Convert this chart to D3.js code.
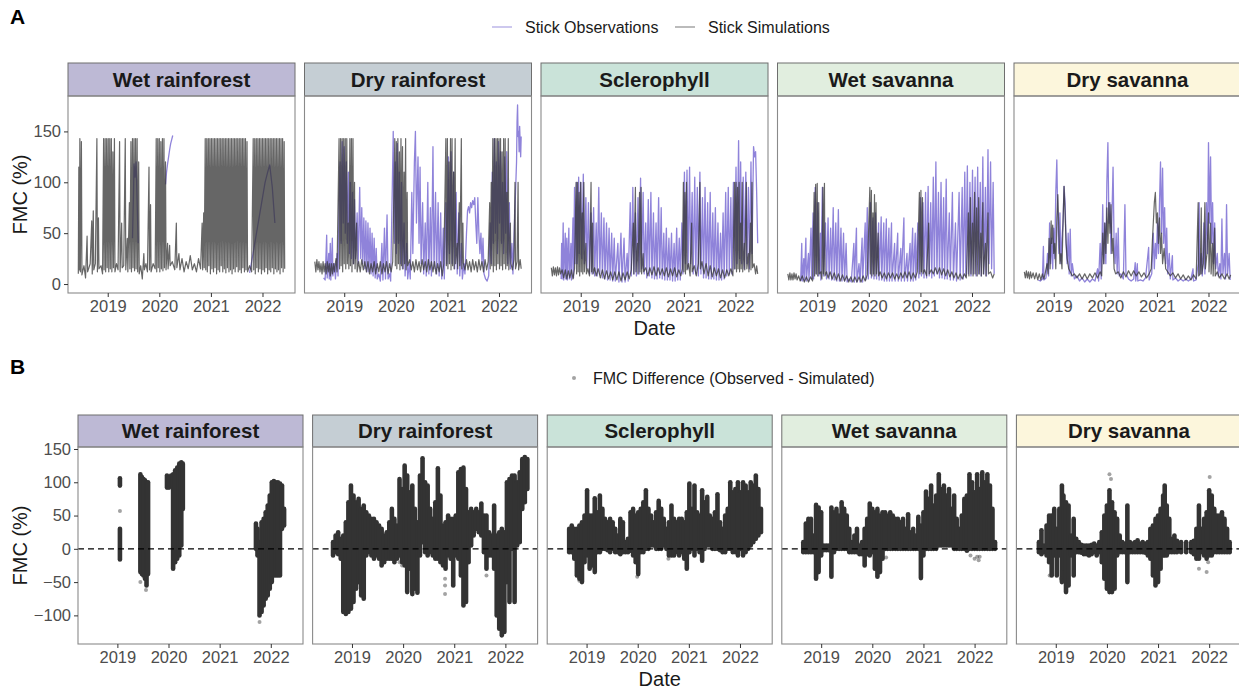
<!DOCTYPE html>
<html>
<head>
<meta charset="utf-8">
<script src="https://cdn.jsdelivr.net/npm/d3@7"></script>
<style>
  body { margin: 0; background: #fff; }
  svg { display: block; font-family: "Liberation Sans", Arial, sans-serif; }
</style>
</head>
<body>
<svg id="chart" width="1239" height="691"></svg>
<script>
// Facets, ticks
const sites = ['Wet rainforest', 'Dry rainforest', 'Sclerophyll', 'Wet savanna', 'Dry savanna'];
const years = [2019, 2020, 2021, 2022];
const fmcTicksA = [0, 50, 100, 150];
const fmcTicksB = [-100, -50, 0, 50, 100, 150];

// Panel A: stick FMC time series [decimal year, FMC %] (null = gap in observations)
const obsWetRainforest = [[2019.48,45],[2019.50,90],[2019.51,118],[2019.53,105],[2019.55,120],[2019.57,80],[2019.59,40],[2019.60,null],
  [2020.12,98],[2020.14,110],[2020.16,118],[2020.18,125],[2020.20,132],[2020.22,138],[2020.24,142],[2020.26,146],[2020.27,null],
  [2021.75,11],[2021.80,25],[2021.85,40],[2021.90,55],[2021.95,70],[2022.00,85],[2022.05,100],[2022.10,110],[2022.14,117],[2022.19,95],[2022.24,60]];
const simWetRainforest = [[2018.43,10],[2018.44,115],[2018.45,14],[2018.46,143],[2018.47,12],[2018.49,140],[2018.50,9],[2018.54,18],[2018.57,6],[2018.60,47],[2018.61,12],[2018.66,20],[2018.69,62],[2018.70,10],[2018.72,72],[2018.73,14],[2018.76,20],[2018.79,143],[2018.80,12],[2018.82,65],[2018.83,15],[2018.87,18],[2018.90,10],
  [2018.92,143],[2018.93,14],[2018.95,143],[2018.96,12],[2018.98,143],[2018.99,16],[2019.01,143],[2019.02,12],[2019.04,143],[2019.05,15],[2019.07,143],[2019.08,12],[2019.10,130],[2019.11,16],[2019.13,143],[2019.14,12],[2019.17,20],[2019.20,14],[2019.23,140],[2019.24,12],[2019.27,60],[2019.28,16],[2019.31,18],[2019.34,143],[2019.35,14],[2019.38,45],[2019.39,12],[2019.42,80],[2019.43,15],
  [2019.45,140],[2019.46,12],[2019.48,143],[2019.49,16],[2019.51,143],[2019.52,13],[2019.54,143],[2019.55,15],[2019.57,143],[2019.58,12],[2019.60,120],[2019.61,10],[2019.64,18],[2019.67,5],[2019.70,30],[2019.71,14],[2019.74,20],[2019.77,12],[2019.80,115],[2019.81,14],[2019.83,78],[2019.84,12],[2019.88,20],[2019.92,15],
  [2019.94,143],[2019.95,12],[2019.97,143],[2019.98,16],[2020.00,143],[2020.01,12],[2020.03,140],[2020.04,15],[2020.06,143],[2020.07,13],[2020.09,143],[2020.10,16],[2020.12,120],[2020.13,14],[2020.16,40],[2020.17,15],[2020.20,38],[2020.21,18],[2020.25,22],[2020.30,14],[2020.33,60],[2020.34,16],[2020.38,30],[2020.40,14],[2020.44,25],[2020.48,12],[2020.52,22],[2020.56,15],[2020.60,28],[2020.64,14],[2020.68,20],[2020.72,12],[2020.76,25],[2020.80,15],[2020.83,60],[2020.84,14],[2020.86,70],[2020.87,16],
  [2020.89,143],[2020.90,14],[2020.92,143],[2020.93,12],[2020.95,143],[2020.96,18],[2020.98,143],[2020.99,10],[2021.01,143],[2021.02,15],[2021.04,143],[2021.05,12],[2021.07,143],[2021.08,16],[2021.10,143],[2021.11,10],[2021.13,143],[2021.14,14],[2021.16,143],[2021.17,12],[2021.19,143],[2021.20,18],[2021.22,143],[2021.23,12],[2021.25,143],[2021.26,15],[2021.28,143],[2021.29,11],[2021.31,143],[2021.32,16],[2021.34,143],[2021.35,12],[2021.37,143],[2021.38,14],[2021.40,143],[2021.41,10],[2021.43,143],[2021.44,15],[2021.46,143],[2021.47,12],[2021.49,143],[2021.50,17],[2021.52,143],[2021.53,12],[2021.55,143],[2021.56,14],[2021.58,143],[2021.59,11],[2021.61,143],[2021.62,16],[2021.64,143],[2021.65,12],[2021.67,143],[2021.68,14],[2021.70,140],[2021.71,12],[2021.75,18],[2021.79,12],
  [2021.82,143],[2021.83,14],[2021.85,143],[2021.86,10],[2021.88,143],[2021.89,16],[2021.91,143],[2021.92,12],[2021.94,143],[2021.95,15],[2021.97,143],[2021.98,10],[2022.00,143],[2022.01,14],[2022.03,143],[2022.04,12],[2022.06,143],[2022.07,16],[2022.09,143],[2022.10,10],[2022.12,143],[2022.13,14],[2022.15,143],[2022.16,12],[2022.18,143],[2022.19,16],[2022.21,143],[2022.22,10],[2022.24,143],[2022.25,15],[2022.27,143],[2022.28,12],[2022.30,143],[2022.31,14],[2022.33,143],[2022.34,10],[2022.36,143],[2022.37,16],[2022.39,143],[2022.40,12],[2022.42,140],[2022.43,15]];

const obsDryRainforest = [[2018.60,6],[2018.63,4],[2018.66,48],[2018.67,6],[2018.70,30],[2018.71,5],[2018.73,40],[2018.74,4],[2018.77,45],[2018.78,8],[2018.81,20],[2018.83,5],[2018.86,30],[2018.88,8],
  [2018.90,80],[2018.92,120],[2018.94,40],[2018.96,140],[2018.98,60],[2019.00,135],[2019.02,50],[2019.04,120],[2019.06,40],[2019.08,110],[2019.10,30],[2019.12,100],[2019.14,25],[2019.16,90],[2019.18,20],[2019.20,83],[2019.22,25],[2019.25,70],[2019.27,20],[2019.30,95],[2019.32,25],[2019.34,75],[2019.36,20],[2019.38,65],[2019.40,15],[2019.42,62],[2019.44,12],[2019.46,60],[2019.48,12],[2019.50,55],[2019.52,10],[2019.54,50],[2019.56,8],[2019.58,45],[2019.60,6],[2019.62,35],[2019.64,5],[2019.67,10],[2019.70,3],[2019.73,40],[2019.75,4],[2019.78,55],[2019.80,5],[2019.83,68],[2019.85,5],[2019.88,10],[2019.90,3],
  [2019.93,90],[2019.95,150],[2019.97,40],[2019.99,120],[2020.01,30],[2020.03,138],[2020.05,40],[2020.07,110],[2020.09,20],[2020.11,100],[2020.13,15],[2020.16,60],[2020.18,8],[2020.21,40],[2020.23,5],[2020.26,20],[2020.28,5],[2020.31,90],[2020.33,30],[2020.36,120],[2020.38,150],[2020.40,60],[2020.43,125],[2020.45,40],[2020.47,115],[2020.49,20],[2020.52,80],[2020.54,10],[2020.57,60],[2020.59,8],[2020.62,100],[2020.64,10],[2020.67,75],[2020.69,8],[2020.72,135],[2020.74,15],[2020.77,90],[2020.79,10],[2020.82,80],[2020.84,8],[2020.87,70],[2020.89,5],[2020.92,55],[2020.94,5],
  [2020.97,80],[2020.99,20],[2021.02,125],[2021.04,30],[2021.07,130],[2021.09,20],[2021.12,110],[2021.14,15],[2021.17,90],[2021.19,10],[2021.22,70],[2021.24,8],[2021.27,40],[2021.29,5],[2021.32,20],[2021.34,10],
  [2021.37,50],[2021.39,72],[2021.41,76],[2021.43,70],[2021.45,80],[2021.47,75],[2021.49,82],[2021.51,78],[2021.53,85],[2021.55,60],[2021.57,40],[2021.59,85],[2021.61,50],[2021.63,30],[2021.65,50],[2021.67,20],[2021.69,45],[2021.71,10],[2021.74,5],[2021.77,3],[2021.80,8],
  [2021.83,60],[2021.85,20],[2021.87,110],[2021.89,40],[2021.91,143],[2021.93,50],[2021.95,120],[2021.97,30],[2021.99,140],[2022.01,60],[2022.03,130],[2022.05,40],[2022.07,100],[2022.09,30],[2022.11,125],[2022.13,50],[2022.15,130],[2022.17,20],[2022.20,80],[2022.22,15],[2022.25,40],[2022.27,10],[2022.30,60],[2022.32,90],[2022.34,120],[2022.35,160],[2022.36,176],[2022.37,145],[2022.38,150],[2022.39,130],[2022.40,155],[2022.41,140],[2022.42,125],[2022.43,145]];
const simDryRainforest = [[2018.43,22],[2018.45,12],[2018.47,24],[2018.49,14],[2018.51,22],[2018.53,12],[2018.55,20],[2018.57,10],[2018.59,22],[2018.61,12],[2018.63,20],[2018.65,10],[2018.67,22],[2018.69,12],[2018.71,20],[2018.73,8],[2018.75,20],[2018.77,10],[2018.79,20],[2018.81,12],[2018.84,25],[2018.86,12],
  [2018.90,143],[2018.91,15],[2018.93,143],[2018.94,18],[2018.96,143],[2018.97,12],[2018.99,143],[2019.00,20],[2019.02,143],[2019.03,15],[2019.05,143],[2019.06,20],[2019.08,60],[2019.09,15],[2019.11,143],[2019.12,18],[2019.14,143],[2019.15,12],[2019.17,143],[2019.18,20],[2019.20,100],[2019.21,15],[2019.24,60],[2019.25,12],[2019.28,22],
  [2019.31,12],[2019.34,24],[2019.37,14],[2019.40,22],[2019.43,12],[2019.46,22],[2019.49,10],[2019.52,20],[2019.55,12],[2019.58,22],[2019.61,10],[2019.64,20],[2019.67,12],[2019.70,22],[2019.73,10],[2019.76,20],[2019.79,12],[2019.82,22],[2019.85,10],[2019.88,20],[2019.91,12],[2019.94,22],
  [2019.98,143],[2019.99,18],[2020.01,140],[2020.02,15],[2020.04,143],[2020.05,20],[2020.07,130],[2020.08,14],[2020.10,143],[2020.11,18],[2020.13,135],[2020.14,15],[2020.16,110],[2020.17,20],[2020.19,143],[2020.20,14],[2020.22,90],[2020.23,18],
  [2020.27,24],[2020.30,14],[2020.33,22],[2020.36,12],[2020.39,24],[2020.42,14],[2020.45,22],[2020.48,12],[2020.51,24],[2020.54,14],[2020.57,22],[2020.60,12],[2020.63,24],[2020.66,14],[2020.69,22],[2020.72,12],[2020.75,22],[2020.78,10],[2020.81,20],[2020.84,12],[2020.87,22],[2020.90,8],[2020.93,20],
  [2020.97,143],[2020.98,18],[2021.00,143],[2021.01,15],[2021.03,120],[2021.04,20],[2021.06,143],[2021.07,14],[2021.09,143],[2021.10,18],[2021.12,110],[2021.13,15],[2021.15,143],[2021.16,20],[2021.19,40],[2021.20,15],[2021.23,80],[2021.24,18],[2021.27,143],[2021.28,15],[2021.30,60],[2021.31,20],
  [2021.34,14],[2021.37,24],[2021.40,14],[2021.43,22],[2021.46,12],[2021.49,24],[2021.52,14],[2021.55,22],[2021.58,12],[2021.61,24],[2021.64,14],[2021.67,22],[2021.70,12],[2021.73,24],[2021.76,14],[2021.79,22],
  [2021.82,80],[2021.83,15],[2021.85,100],[2021.86,18],[2021.88,143],[2021.89,12],[2021.91,143],[2021.92,18],[2021.94,143],[2021.95,14],[2021.97,143],[2021.98,20],[2022.00,143],[2022.01,15],[2022.03,143],[2022.04,18],[2022.06,130],[2022.07,14],[2022.09,143],[2022.10,20],[2022.12,143],[2022.13,15],[2022.15,90],[2022.16,18],[2022.18,143],[2022.19,14],[2022.22,60],[2022.23,20],
  [2022.26,14],[2022.29,24],[2022.31,100],[2022.32,15],[2022.35,22],[2022.37,100],[2022.38,14],[2022.41,24],[2022.43,15]];

const obsSclerophyll = [[2018.62,5],[2018.63,40],[2018.64,5],[2018.66,60],[2018.67,4],[2018.70,50],[2018.71,5],[2018.73,45],[2018.74,4],[2018.77,55],[2018.78,5],[2018.81,40],[2018.82,4],[2018.85,65],[2018.86,6],[2018.88,95],[2018.89,20],[2018.92,100],[2018.93,20],[2018.96,105],[2018.97,30],[2019.00,100],[2019.02,25],[2019.05,108],[2019.07,20],[2019.10,85],[2019.12,15],[2019.15,80],[2019.17,10],[2019.20,70],[2019.22,10],[2019.25,75],[2019.27,8],[2019.30,60],[2019.32,8],[2019.35,95],[2019.37,10],[2019.40,70],[2019.42,6],[2019.45,65],[2019.47,5],[2019.50,60],[2019.52,4],[2019.55,55],[2019.57,4],[2019.60,50],[2019.62,3],[2019.65,45],[2019.67,3],[2019.72,40],[2019.74,2],[2019.78,50],[2019.80,2],[2019.84,45],[2019.86,2],
  [2019.90,30],[2019.92,3],[2019.96,80],[2019.98,8],[2020.01,95],[2020.03,10],[2020.06,70],[2020.08,8],[2020.11,85],[2020.13,10],[2020.16,104],[2020.18,15],[2020.21,90],[2020.23,10],[2020.26,60],[2020.28,6],[2020.31,83],[2020.33,8],[2020.36,90],[2020.38,6],[2020.41,70],[2020.43,5],[2020.46,60],[2020.48,5],[2020.51,85],[2020.53,6],[2020.56,75],[2020.58,5],[2020.61,50],[2020.63,4],[2020.66,55],[2020.68,4],[2020.71,45],[2020.73,4],[2020.76,50],[2020.78,3],[2020.81,40],[2020.83,3],[2020.86,55],[2020.88,4],[2020.91,45],[2020.93,4],
  [2020.96,60],[2020.98,10],[2021.01,110],[2021.03,20],[2021.06,112],[2021.08,15],[2021.11,115],[2021.13,20],[2021.16,90],[2021.18,10],[2021.21,105],[2021.23,10],[2021.26,95],[2021.28,8],[2021.31,110],[2021.33,10],[2021.36,85],[2021.38,6],[2021.41,95],[2021.43,6],[2021.46,80],[2021.48,5],[2021.51,90],[2021.53,5],[2021.56,70],[2021.58,5],[2021.61,75],[2021.63,4],[2021.66,60],[2021.68,4],[2021.71,50],[2021.73,4],[2021.76,70],[2021.78,5],[2021.81,90],[2021.83,8],[2021.86,95],[2021.88,10],[2021.91,85],[2021.93,10],
  [2021.96,100],[2021.98,15],[2022.01,115],[2022.03,20],[2022.06,141],[2022.08,25],[2022.10,120],[2022.12,20],[2022.15,105],[2022.17,15],[2022.20,110],[2022.22,20],[2022.25,95],[2022.27,15],[2022.30,120],[2022.32,30],[2022.35,135],[2022.37,125],[2022.39,130],[2022.41,90],[2022.43,40]];
const simSclerophyll = [[2018.43,16],[2018.45,8],[2018.47,17],[2018.49,9],[2018.51,16],[2018.53,8],[2018.55,17],[2018.57,9],[2018.59,16],[2018.61,10],[2018.64,14],[2018.67,6],[2018.70,14],[2018.73,5],[2018.76,13],[2018.79,6],[2018.82,14],[2018.85,5],[2018.88,15],
  [2018.91,100],[2018.92,10],[2018.94,100],[2018.95,12],[2018.97,90],[2018.98,8],[2019.00,100],[2019.01,12],[2019.03,70],[2019.04,10],[2019.06,100],[2019.07,12],[2019.10,40],[2019.11,10],[2019.14,15],[2019.17,8],[2019.20,100],[2019.21,12],[2019.23,60],[2019.24,10],[2019.27,16],
  [2019.30,8],[2019.34,15],[2019.38,6],[2019.42,14],[2019.46,5],[2019.50,13],[2019.54,5],[2019.58,12],[2019.62,4],[2019.66,12],[2019.70,4],[2019.74,12],[2019.78,3],[2019.82,11],[2019.86,4],[2019.90,12],[2019.94,5],[2019.98,14],
  [2020.02,60],[2020.03,10],[2020.06,95],[2020.07,12],[2020.10,40],[2020.11,10],[2020.14,90],[2020.15,12],[2020.17,95],[2020.18,10],[2020.21,30],[2020.22,12],
  [2020.26,16],[2020.30,8],[2020.34,16],[2020.38,9],[2020.42,17],[2020.46,8],[2020.50,16],[2020.54,9],[2020.58,15],[2020.62,8],[2020.66,16],[2020.70,7],[2020.74,15],[2020.78,8],[2020.82,16],[2020.86,7],[2020.90,14],[2020.94,8],[2020.97,15],
  [2020.99,100],[2021.00,12],[2021.02,90],[2021.03,10],[2021.05,100],[2021.06,14],[2021.09,20],[2021.12,8],[2021.15,60],[2021.16,12],[2021.20,18],[2021.24,8],[2021.28,20],[2021.31,100],[2021.32,15],[2021.35,22],[2021.39,10],[2021.43,20],[2021.47,8],[2021.51,18],[2021.55,7],[2021.59,16],[2021.63,8],[2021.67,15],[2021.71,6],[2021.75,14],[2021.79,6],[2021.83,14],[2021.87,8],[2021.91,15],[2021.95,8],
  [2021.98,100],[2021.99,15],[2022.01,100],[2022.02,12],[2022.04,95],[2022.05,15],[2022.07,100],[2022.08,12],[2022.10,60],[2022.11,15],[2022.13,100],[2022.14,12],[2022.17,40],[2022.18,14],[2022.21,100],[2022.22,15],[2022.25,30],[2022.26,12],[2022.29,60],[2022.30,14],[2022.32,100],[2022.33,16],[2022.36,20],[2022.39,10],[2022.41,18],[2022.43,10]];

const obsWetSavanna = [[2018.68,3],[2018.70,40],[2018.71,3],[2018.74,25],[2018.75,3],[2018.78,45],[2018.79,3],[2018.83,30],[2018.84,3],[2018.88,55],[2018.89,5],[2018.92,70],[2018.93,5],[2018.96,95],[2018.98,10],[2019.01,80],[2019.03,8],[2019.06,50],[2019.07,4],[2019.10,95],[2019.12,8],[2019.16,60],[2019.18,5],[2019.21,65],[2019.23,5],[2019.26,55],[2019.28,4],[2019.31,75],[2019.33,4],[2019.36,60],[2019.38,3],[2019.41,73],[2019.43,3],[2019.46,55],[2019.48,3],[2019.51,50],[2019.53,3],[2019.56,40],[2019.58,2],[2019.62,5],[2019.66,2],[2019.71,40],[2019.72,2],[2019.76,55],[2019.77,2],[2019.81,20],[2019.83,2],[2019.87,45],[2019.88,2],
  [2019.93,60],[2019.94,4],[2019.97,75],[2019.99,5],[2020.03,80],[2020.05,6],[2020.08,65],[2020.10,5],[2020.13,70],[2020.15,5],[2020.19,60],[2020.20,4],[2020.24,66],[2020.25,4],[2020.29,60],[2020.30,3],[2020.34,64],[2020.35,3],[2020.39,55],[2020.40,3],[2020.44,60],[2020.45,3],[2020.50,40],[2020.51,3],[2020.56,50],[2020.57,3],[2020.62,35],[2020.63,3],[2020.68,65],[2020.69,3],[2020.74,30],[2020.75,3],[2020.80,40],[2020.81,3],[2020.85,55],[2020.86,3],[2020.90,50],[2020.91,4],
  [2020.95,60],[2020.97,6],[2021.00,85],[2021.02,8],[2021.05,80],[2021.07,6],[2021.10,90],[2021.12,6],[2021.15,96],[2021.17,8],[2021.20,80],[2021.22,6],[2021.25,105],[2021.27,8],[2021.30,120],[2021.32,10],[2021.35,90],[2021.37,6],[2021.40,100],[2021.42,6],[2021.45,85],[2021.47,5],[2021.50,103],[2021.52,5],[2021.56,70],[2021.58,4],[2021.62,90],[2021.64,4],[2021.68,60],[2021.70,3],[2021.75,90],[2021.77,4],[2021.81,95],[2021.83,5],
  [2021.86,110],[2021.88,8],[2021.91,116],[2021.93,10],[2021.96,100],[2021.98,8],[2022.01,112],[2022.03,10],[2022.06,105],[2022.08,8],[2022.11,115],[2022.13,10],[2022.16,100],[2022.18,8],[2022.21,125],[2022.23,10],[2022.26,95],[2022.28,8],[2022.31,132],[2022.33,20],[2022.36,120],[2022.38,15],[2022.41,100],[2022.43,10]];
const simWetSavanna = [[2018.43,10],[2018.45,4],[2018.47,11],[2018.49,4],[2018.51,10],[2018.53,4],[2018.55,11],[2018.57,5],[2018.59,10],[2018.61,4],[2018.64,8],[2018.67,3],[2018.71,8],[2018.75,2],[2018.79,7],[2018.83,2],[2018.87,7],[2018.91,3],
  [2018.94,90],[2018.95,8],[2018.97,98],[2018.98,10],[2019.00,99],[2019.01,8],[2019.03,80],[2019.04,10],[2019.07,12],[2019.09,5],[2019.11,95],[2019.12,10],[2019.14,99],[2019.15,8],[2019.18,12],[2019.21,6],[2019.25,12],[2019.29,5],[2019.33,11],[2019.37,4],[2019.41,10],[2019.45,3],[2019.49,9],[2019.53,3],[2019.57,8],[2019.61,2],[2019.65,7],[2019.69,2],[2019.73,7],[2019.77,2],[2019.81,7],[2019.85,2],[2019.89,8],[2019.93,3],[2019.97,9],
  [2020.02,95],[2020.03,10],[2020.05,92],[2020.06,8],[2020.08,70],[2020.09,10],[2020.11,88],[2020.12,8],[2020.14,80],[2020.15,10],[2020.18,50],[2020.19,8],[2020.22,12],[2020.26,6],[2020.30,11],[2020.34,5],[2020.38,11],[2020.42,6],[2020.46,11],[2020.50,5],[2020.54,10],[2020.58,5],[2020.62,11],[2020.66,6],[2020.70,12],[2020.74,6],[2020.78,12],[2020.82,5],[2020.86,11],[2020.90,6],[2020.94,12],
  [2020.98,90],[2020.99,10],[2021.01,92],[2021.02,12],[2021.04,85],[2021.05,10],[2021.08,14],[2021.12,8],[2021.16,60],[2021.17,10],[2021.21,14],[2021.25,10],[2021.29,16],[2021.33,10],[2021.37,16],[2021.41,9],[2021.45,15],[2021.49,8],[2021.53,14],[2021.57,7],[2021.61,12],[2021.65,6],[2021.69,11],[2021.73,5],[2021.77,10],[2021.81,5],[2021.85,10],[2021.89,6],
  [2021.93,70],[2021.94,8],[2021.97,85],[2021.98,10],[2022.01,60],[2022.02,8],[2022.05,90],[2022.06,10],[2022.09,75],[2022.10,8],[2022.13,85],[2022.14,10],[2022.17,50],[2022.18,8],[2022.21,80],[2022.22,10],[2022.26,40],[2022.27,8],[2022.31,70],[2022.32,10],[2022.36,12],[2022.40,6],[2022.43,10]];

const obsDrySavanna = [[2018.70,4],[2018.74,3],[2018.78,5],[2018.80,37],[2018.81,4],[2018.85,6],[2018.88,30],[2018.90,8],[2018.92,60],[2018.94,20],[2018.96,45],[2018.98,15],[2019.00,55],[2019.02,25],[2019.04,90],[2019.06,122],[2019.08,60],[2019.10,30],[2019.12,70],[2019.14,20],[2019.16,45],[2019.18,60],[2019.20,96],[2019.22,80],[2019.24,40],[2019.26,20],[2019.28,50],[2019.30,10],[2019.32,54],[2019.34,8],[2019.36,20],[2019.40,5],[2019.45,8],[2019.50,3],[2019.55,6],[2019.60,2],[2019.65,5],[2019.70,2],[2019.75,5],[2019.80,3],[2019.85,15],[2019.87,3],
  [2019.90,40],[2019.92,5],[2019.95,78],[2019.97,20],[2019.99,60],[2020.01,20],[2020.03,100],[2020.05,139],[2020.07,60],[2020.09,80],[2020.11,30],[2020.13,70],[2020.15,115],[2020.17,40],[2020.19,20],[2020.21,50],[2020.23,10],[2020.25,55],[2020.27,8],[2020.30,10],[2020.35,5],[2020.38,78],[2020.40,10],[2020.45,5],[2020.50,3],[2020.55,5],[2020.58,21],[2020.59,3],[2020.62,20],[2020.63,3],[2020.68,4],[2020.73,3],[2020.78,6],[2020.84,36],[2020.85,4],[2020.90,10],
  [2020.93,50],[2020.95,15],[2020.97,40],[2020.99,25],[2021.01,60],[2021.03,30],[2021.05,80],[2021.07,120],[2021.09,50],[2021.11,114],[2021.13,40],[2021.15,75],[2021.17,20],[2021.19,55],[2021.21,10],[2021.24,30],[2021.26,5],[2021.30,28],[2021.31,4],[2021.36,6],[2021.41,3],[2021.46,5],[2021.51,3],[2021.56,5],[2021.61,3],[2021.66,5],[2021.70,15],[2021.71,3],[2021.76,4],
  [2021.80,20],[2021.82,80],[2021.83,10],[2021.86,30],[2021.88,8],[2021.91,60],[2021.93,10],[2021.96,80],[2021.98,30],[2022.00,139],[2022.02,60],[2022.04,125],[2022.06,40],[2022.08,80],[2022.10,20],[2022.12,60],[2022.14,15],[2022.17,30],[2022.19,8],[2022.22,20],[2022.24,5],[2022.26,64],[2022.28,10],[2022.31,30],[2022.33,5],[2022.35,78],[2022.37,10],[2022.40,30],[2022.42,4]];
const simDrySavanna = [[2018.43,12],[2018.45,6],[2018.47,13],[2018.49,6],[2018.51,12],[2018.53,5],[2018.55,12],[2018.57,6],[2018.60,11],[2018.63,5],[2018.66,11],[2018.69,4],[2018.72,10],[2018.75,4],[2018.78,10],[2018.81,5],[2018.84,12],[2018.87,20],[2018.89,10],[2018.91,45],[2018.93,15],[2018.95,62],[2018.96,40],[2018.98,58],[2019.00,30],[2019.02,40],[2019.04,15],[2019.06,65],[2019.08,88],[2019.10,50],[2019.12,20],[2019.14,30],[2019.16,15],[2019.18,60],[2019.20,96],[2019.22,70],[2019.24,40],[2019.26,25],[2019.29,15],[2019.32,12],
  [2019.36,8],[2019.40,10],[2019.45,6],[2019.50,10],[2019.55,5],[2019.60,10],[2019.65,5],[2019.70,10],[2019.75,6],[2019.80,11],[2019.85,6],[2019.90,12],[2019.93,8],[2019.95,50],[2019.97,20],[2019.99,60],[2020.01,30],[2020.03,75],[2020.05,40],[2020.07,80],[2020.09,50],[2020.11,78],[2020.13,30],[2020.15,45],[2020.17,15],[2020.20,10],
  [2020.25,12],[2020.30,6],[2020.35,12],[2020.40,7],[2020.45,13],[2020.50,8],[2020.55,13],[2020.60,8],[2020.65,12],[2020.70,7],[2020.75,11],[2020.80,6],[2020.85,10],[2020.89,15],[2020.91,40],[2020.93,60],[2020.95,80],[2020.97,90],[2020.99,60],[2021.01,70],[2021.03,40],[2021.05,65],[2021.07,30],[2021.09,50],[2021.11,20],[2021.14,35],[2021.17,15],
  [2021.21,12],[2021.26,8],[2021.31,11],[2021.36,6],[2021.41,10],[2021.46,5],[2021.51,9],[2021.56,4],[2021.61,8],[2021.66,4],[2021.71,9],[2021.76,5],[2021.80,80],[2021.81,8],[2021.84,10],[2021.86,75],[2021.87,10],[2021.90,20],[2021.93,80],[2021.94,15],[2021.97,30],[2022.00,70],[2022.01,12],[2022.04,60],[2022.05,10],[2022.08,40],[2022.09,8],[2022.12,55],[2022.13,8],[2022.17,12],[2022.21,6],[2022.26,10],[2022.31,5],[2022.36,10],[2022.40,5],[2022.43,9]];

// Panel B: FMC difference (observed - simulated), dense point clouds as [decimal year, low, high]
const diffWetRainforest = [[2019.05,-16,30],[2019.05,95,106],
  [2019.45,-35,112],[2019.48,-38,108],[2019.51,-40,105],[2019.54,-45,103],[2019.57,-55,100],[2019.60,-38,100],
  [2019.97,92,110],[2020.01,92,108],[2020.05,95,110],[2020.09,-30,112],[2020.13,-20,118],[2020.17,-15,122],[2020.21,-10,128],[2020.25,5,130],[2020.28,60,128],
  [2021.71,0,38],[2021.74,-10,30],[2021.78,-100,10],[2021.82,-95,40],[2021.86,-85,45],[2021.90,-75,55],[2021.94,-70,65],[2021.98,-60,80],[2022.02,-50,100],[2022.06,-40,102],[2022.10,-40,100],[2022.14,-40,100],[2022.18,-40,98],[2022.22,30,95],[2022.26,35,60]];
const diffDryRainforest = [[2018.63,-10,10],[2018.68,-5,20],[2018.73,-8,25],[2018.78,-15,15],[2018.83,-95,20],[2018.88,-98,40],[2018.93,-95,70],[2018.98,-90,95],[2019.03,-80,80],[2019.08,-60,70],[2019.13,-50,75],[2019.18,-70,60],[2019.23,-75,65],[2019.28,-10,55],[2019.33,-5,50],[2019.38,-10,45],[2019.43,-15,45],[2019.48,-10,40],[2019.53,-15,35],[2019.58,-25,30],[2019.63,-20,20],[2019.68,-15,25],[2019.73,-15,40],[2019.78,-15,60],[2019.83,-20,45],[2019.88,-15,35],
  [2019.93,-10,105],[2019.98,-20,90],[2020.03,-25,125],[2020.08,-65,110],[2020.13,-30,85],[2020.18,-68,95],[2020.23,-60,60],[2020.28,-66,40],[2020.33,-10,110],[2020.38,10,136],[2020.43,-5,100],[2020.48,-10,95],[2020.53,-5,60],[2020.58,-10,45],[2020.63,-15,70],[2020.68,-15,121],[2020.73,-20,80],[2020.78,-25,35],[2020.83,-30,40],[2020.88,-10,50],[2020.93,-15,45],[2020.98,-55,45],
  [2021.03,-10,50],[2021.08,-15,115],[2021.13,-40,120],[2021.18,-85,122],[2021.23,-80,90],[2021.28,-20,55],[2021.33,5,60],[2021.38,20,55],[2021.43,30,60],[2021.48,25,55],[2021.53,20,68],[2021.58,-5,50],[2021.63,-30,50],[2021.68,-10,25],[2021.73,-10,20],[2021.78,-30,65],[2021.83,-100,20],[2021.88,-120,25],[2021.93,-130,30],[2021.98,-125,25],
  [2022.03,-50,100],[2022.08,-80,105],[2022.13,0,110],[2022.18,-80,110],[2022.23,5,100],[2022.28,10,115],[2022.33,60,135],[2022.38,70,138],[2022.43,90,135]];
const diffSclerophyll = [[2018.66,-5,30],[2018.71,-5,35],[2018.76,-15,30],[2018.81,-40,30],[2018.86,-45,35],[2018.91,-50,40],[2018.96,-20,50],[2019.01,-10,88],[2019.06,-30,50],[2019.11,-25,50],[2019.16,-35,76],[2019.21,-5,55],[2019.26,-5,80],[2019.31,0,60],[2019.36,0,45],[2019.41,-2,40],[2019.46,-5,45],[2019.51,0,40],[2019.56,-5,30],[2019.61,-5,20],[2019.66,-8,45],[2019.71,-5,40],[2019.76,-5,10],[2019.81,-5,15],[2019.86,-3,55],[2019.91,-10,60],[2019.96,-20,50],
  [2020.01,-38,55],[2020.06,-5,60],[2020.11,-5,70],[2020.16,0,88],[2020.21,0,60],[2020.26,5,50],[2020.31,5,40],[2020.36,0,55],[2020.41,0,72],[2020.46,0,60],[2020.51,5,45],[2020.56,0,30],[2020.61,-10,40],[2020.66,-10,65],[2020.71,-10,45],[2020.76,-5,40],[2020.81,-10,45],[2020.86,-5,45],[2020.91,-15,40],[2020.96,-30,55],
  [2021.01,-5,98],[2021.06,0,60],[2021.11,-10,95],[2021.16,0,55],[2021.21,-5,50],[2021.26,-18,88],[2021.31,0,70],[2021.36,5,78],[2021.41,5,50],[2021.46,0,45],[2021.51,0,55],[2021.56,0,82],[2021.61,-2,40],[2021.66,-5,30],[2021.71,-5,50],[2021.76,0,60],[2021.81,0,100],[2021.86,-5,85],[2021.91,-5,90],[2021.96,-10,100],
  [2022.01,0,85],[2022.06,-10,100],[2022.11,-5,95],[2022.16,0,85],[2022.21,5,100],[2022.26,10,95],[2022.31,15,110],[2022.36,20,90],[2022.41,25,60]];
const diffWetSavanna = [[2018.65,-5,10],[2018.70,-5,38],[2018.75,-5,45],[2018.80,-5,45],[2018.85,-5,20],[2018.90,-45,66],[2018.95,-35,62],[2019.00,-10,55],[2019.05,-2,5],[2019.10,-2,5],[2019.15,-2,5],[2019.20,-42,62],[2019.25,-5,55],[2019.30,0,60],[2019.35,0,50],[2019.40,0,70],[2019.45,0,60],[2019.50,0,50],[2019.55,-5,30],[2019.60,-5,10],[2019.65,-5,20],[2019.70,-5,30],[2019.75,-8,5],[2019.80,-8,10],[2019.85,-25,30],[2019.90,-8,45],[2019.95,-10,68],
  [2020.00,-5,60],[2020.05,-30,55],[2020.10,-42,60],[2020.15,-35,50],[2020.20,-15,55],[2020.25,0,55],[2020.30,0,50],[2020.35,0,55],[2020.40,0,50],[2020.45,0,45],[2020.50,0,45],[2020.55,0,40],[2020.60,0,45],[2020.65,0,30],[2020.70,0,52],[2020.75,0,25],[2020.80,0,30],[2020.85,0,20],[2020.90,0,48],[2020.95,-44,35],
  [2021.00,-10,55],[2021.05,0,86],[2021.10,0,75],[2021.15,0,95],[2021.20,0,65],[2021.25,0,80],[2021.30,5,112],[2021.35,5,90],[2021.40,5,95],[2021.45,5,80],[2021.50,5,90],[2021.55,5,60],[2021.60,0,80],[2021.65,0,45],[2021.70,0,30],[2021.75,0,50],[2021.80,0,75],[2021.85,-3,80],[2021.90,0,112],[2021.95,0,100],
  [2022.00,0,85],[2022.05,0,112],[2022.10,0,90],[2022.15,0,115],[2022.20,0,100],[2022.25,0,112],[2022.30,0,95],[2022.35,0,60],[2022.40,0,10]];
const diffDrySavanna = [[2018.67,-5,10],[2018.72,-8,28],[2018.77,-5,5],[2018.82,-10,35],[2018.87,-20,50],[2018.92,-40,50],[2018.97,-10,60],[2019.02,-40,30],[2019.07,-10,60],[2019.12,-50,95],[2019.15,-30,80],[2019.20,-65,70],[2019.25,-55,65],[2019.30,-10,20],[2019.35,-40,45],[2019.40,-5,15],[2019.45,-5,10],[2019.50,-6,6],[2019.55,-8,5],[2019.60,-8,5],[2019.65,-10,5],[2019.70,-8,6],[2019.75,-5,8],[2019.80,-10,5],[2019.85,-5,10],[2019.90,-20,25],[2019.95,-45,50],
  [2020.00,-60,65],[2020.05,-65,88],[2020.10,-65,70],[2020.15,-60,55],[2020.20,-10,45],[2020.25,-5,20],[2020.30,-5,10],[2020.35,-5,8],[2020.40,-50,65],[2020.45,-5,10],[2020.50,-5,8],[2020.55,-5,10],[2020.60,-5,13],[2020.65,-5,8],[2020.70,-5,10],[2020.75,-6,8],[2020.80,-10,10],[2020.85,-15,30],[2020.90,-40,35],[2020.95,-55,45],
  [2021.00,-50,50],[2021.05,-30,60],[2021.10,-10,80],[2021.13,-10,95],[2021.17,-10,65],[2021.22,-5,45],[2021.27,-5,15],[2021.32,-5,20],[2021.37,-5,12],[2021.45,-5,10],[2021.55,-5,10],[2021.65,-5,10],[2021.70,-8,12],[2021.75,-15,30],[2021.80,-15,65],[2021.85,-5,30],[2021.90,-10,45],[2021.95,-15,55],
  [2022.00,-10,88],[2022.05,-10,80],[2022.10,-5,60],[2022.15,-5,50],[2022.20,-5,50],[2022.25,-5,55],[2022.30,-5,45],[2022.35,-5,30],[2022.40,-5,10]];

// scattered single points in panel B [decimal year, difference]
const strayWetRainforest = [[2019.05,57],[2019.56,-62],[2021.78,-110],[2019.45,-50]];
const strayDryRainforest = [[2020.82,-45],[2020.82,-55],[2020.82,-68],[2019.93,-20],[2021.63,-40],[2019.98,-25]];
const straySclerophyll = [[2019.99,-42],[2020.60,-15],[2020.96,-15],[2018.86,-48]];
const strayWetSavanna = [[2021.92,-10],[2022.00,-15],[2022.05,-12],[2022.08,-17],[2022.10,-12],[2020.27,-13]];
const strayDrySavanna = [[2020.05,112],[2020.08,105],[2021.80,-30],[2022.01,108],[2021.98,-20],[2021.95,-35],[2018.88,-40],[2019.10,-45]];

const obsSeries = [obsWetRainforest, obsDryRainforest, obsSclerophyll, obsWetSavanna, obsDrySavanna];
const simSeries = [simWetRainforest, simDryRainforest, simSclerophyll, simWetSavanna, simDrySavanna];
const diffSeries = [diffWetRainforest, diffDryRainforest, diffSclerophyll, diffWetSavanna, diffDrySavanna];
const straySeries = [strayWetRainforest, strayDryRainforest, straySclerophyll, strayWetSavanna, strayDrySavanna];

// styling
const stripFill = ['#bdb9d5', '#c5ced4', '#cae3d9', '#e1eedf', '#fcf6dc'];
const obsColour = '#6a5acd';
const simColour = '#333333';
const xDomain = [2018.23, 2022.63];

const rowA = { top: 96, height: 197, left: 68, step: 236.5, width: 227, strip: 33, yDomain: [-8.8, 184.8], yTicks: fmcTicksA };
const rowB = { top: 447, height: 197, left: 78, step: 234.6, width: 225, strip: 32, yDomain: [-143, 153], yTicks: fmcTicksB };

const svg = d3.select('#chart');

function styleAxis(g) {
  g.select('.domain').remove();
  g.selectAll('.tick line').attr('stroke', '#333').attr('stroke-width', 1);
  g.selectAll('.tick text')
      .attr('fill', '#4d4d4d')
      .style('font-size', '16.5px')
      .style('font-family', '"Liberation Sans", Arial, sans-serif');
}

// draws one row of five facets and hands each plotting area to drawData
function drawRow(cfg, id, drawData) {
  const x = d3.scaleLinear().domain(xDomain).range([0, cfg.width]);
  const y = d3.scaleLinear().domain(cfg.yDomain).range([cfg.height, 0]);

  sites.forEach((site, i) => {
    const g = svg.append('g')
        .attr('transform', 'translate(' + (cfg.left + i * cfg.step) + ',' + cfg.top + ')');

    g.append('rect')
        .attr('x', 0).attr('y', -cfg.strip)
        .attr('width', cfg.width).attr('height', cfg.strip)
        .attr('fill', stripFill[i])
        .attr('stroke', '#6e6e6e').attr('stroke-width', 1);

    g.append('text')
        .attr('x', cfg.width / 2).attr('y', -cfg.strip / 2)
        .attr('dy', '0.36em')
        .attr('text-anchor', 'middle')
        .attr('fill', '#1a1a1a')
        .style('font-size', '20.5px').style('font-weight', 'bold')
        .text(site);

    g.append('clipPath').attr('id', id + i)
      .append('rect').attr('width', cfg.width).attr('height', cfg.height);

    const plot = g.append('g').attr('clip-path', 'url(#' + id + i + ')');
    drawData(plot, i, x, y);

    g.append('rect')
        .attr('width', cfg.width).attr('height', cfg.height)
        .attr('fill', 'none')
        .attr('stroke', '#8a8a8a').attr('stroke-width', 1.1);

    const xAxis = g.append('g')
        .attr('transform', 'translate(0,' + cfg.height + ')')
        .call(d3.axisBottom(x).tickValues(years).tickFormat(d3.format('d')).tickSize(4).tickPadding(3));
    styleAxis(xAxis);

    if (i === 0) {
      const yAxis = g.append('g')
          .call(d3.axisLeft(y).tickValues(cfg.yTicks).tickSize(4).tickPadding(3));
      styleAxis(yAxis);
    }
  });

  const right = cfg.left + 4 * cfg.step + cfg.width;
  // y title
  svg.append('text')
      .attr('transform', 'translate(' + 20 + ',' + (cfg.top + cfg.height / 2) + ') rotate(-90)')
      .attr('dy', '0.36em')
      .attr('text-anchor', 'middle')
      .attr('fill', '#1a1a1a')
      .style('font-size', '20px')
      .text('FMC (%)');
  // x title
  svg.append('text')
      .attr('x', (cfg.left + right) / 2)
      .attr('y', cfg.top + cfg.height + 35)
      .attr('dy', '0.36em')
      .attr('text-anchor', 'middle')
      .attr('fill', '#1a1a1a')
      .style('font-size', '20px')
      .text('Date');
}

// Panel A lines
drawRow(rowA, 'clipA', (plot, i, x, y) => {
  const line = d3.line()
      .defined(d => d[1] != null)
      .x(d => x(d[0]))
      .y(d => y(d[1]));

  plot.append('path')
      .datum(obsSeries[i])
      .attr('d', line)
      .attr('fill', 'none')
      .attr('stroke', obsColour).attr('stroke-opacity', 0.75)
      .attr('stroke-width', 1.3)
      .attr('stroke-linejoin', 'round');

  plot.append('path')
      .datum(simSeries[i])
      .attr('d', line)
      .attr('fill', 'none')
      .attr('stroke', simColour).attr('stroke-opacity', 0.75)
      .attr('stroke-width', 1.2)
      .attr('stroke-linejoin', 'round');
});

// Panel B point clouds
drawRow(rowB, 'clipB', (plot, i, x, y) => {
  plot.append('g')
    .selectAll('line')
    .data(diffSeries[i])
    .join('line')
      .attr('x1', d => x(d[0])).attr('x2', d => x(d[0]))
      .attr('y1', d => y(d[1])).attr('y2', d => y(d[2]))
      .attr('stroke', '#333').attr('stroke-opacity', 1)
      .attr('stroke-width', 4.6).attr('stroke-linecap', 'round');

  plot.append('g')
    .selectAll('circle')
    .data(straySeries[i])
    .join('circle')
      .attr('cx', d => x(d[0])).attr('cy', d => y(d[1]))
      .attr('r', 2)
      .attr('fill', '#333').attr('fill-opacity', 0.45);

  plot.append('line')
      .attr('x1', 0).attr('x2', x.range()[1])
      .attr('y1', y(0)).attr('y2', y(0))
      .attr('stroke', '#000').attr('stroke-width', 1.4)
      .attr('stroke-dasharray', '6,4');
});

// panel tags
svg.append('text').attr('x', 10).attr('y', 24).style('font-size', '21px').style('font-weight', 'bold').text('A');
svg.append('text').attr('x', 10).attr('y', 374).style('font-size', '21px').style('font-weight', 'bold').text('B');

// legend A
const legendA = svg.append('g').attr('transform', 'translate(0,27)');
[['Stick Observations', obsColour, 492], ['Stick Simulations', simColour, 675]].forEach(([label, colour, x0]) => {
  legendA.append('line')
      .attr('x1', x0).attr('x2', x0 + 20)
      .attr('stroke', colour).attr('stroke-opacity', 0.55).attr('stroke-width', 1.2);
  legendA.append('text')
      .attr('x', x0 + 33).attr('dy', '0.36em')
      .attr('fill', '#1a1a1a')
      .style('font-size', '16px')
      .text(label);
});

// legend B
const legendB = svg.append('g').attr('transform', 'translate(0,378)');
legendB.append('circle').attr('cx', 574).attr('r', 2).attr('fill', '#333').attr('fill-opacity', 0.45);
legendB.append('text')
    .attr('x', 593).attr('dy', '0.36em')
    .attr('fill', '#1a1a1a')
    .style('font-size', '16px')
    .text('FMC Difference (Observed - Simulated)');
</script>
</body>
</html>
